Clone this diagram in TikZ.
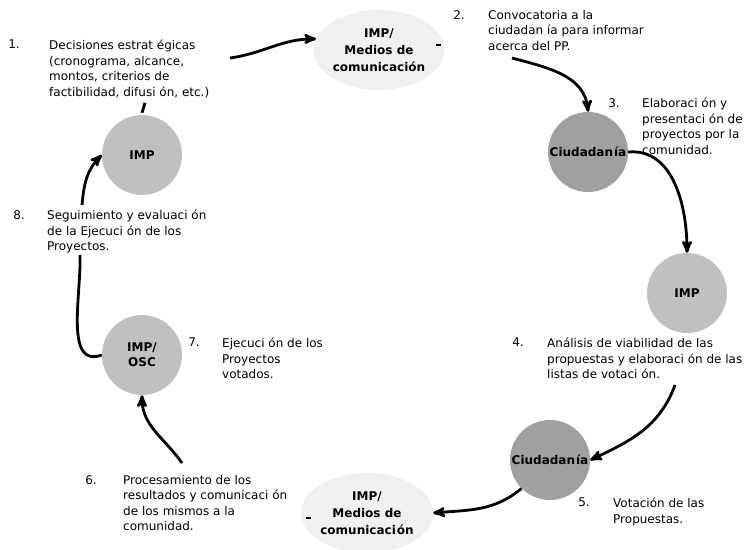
\documentclass[tikz,border=0pt]{standalone}
\usepackage{fontspec}
\setmainfont{DejaVu Sans}
\usetikzlibrary{arrows,positioning,shapes.geometric}
\definecolor{impgray}{HTML}{C0C0C0}
\definecolor{ciugray}{HTML}{A0A0A0}
\definecolor{medgray}{HTML}{F0F0F0}

\begin{document}
\begin{tikzpicture}[x=1pt,y=-1pt,>=stealth',
  every node/.style={font=\fontsize{12}{15.5}\selectfont},
  body/.style={anchor=north west,align=left,inner sep=0pt},
  num/.style={inner sep=0pt},
  imp node/.style={circle,fill=impgray,minimum size=80pt,inner sep=0pt,
    align=center,font=\fontsize{12}{15}\selectfont\bfseries},
  ciu node/.style={imp node,fill=ciugray},
  med node/.style={ellipse,fill=medgray,minimum width=108pt,minimum height=80pt,
    inner sep=0pt,align=center,font=\fontsize{12}{17}\selectfont\bfseries},
  flow/.style={->,line width=2.8pt},
  stub/.style={line width=2.8pt}]
  \useasboundingbox (0,0) rectangle (755,549);

  % actores
  \node[imp node] (iA) at (142,155) {IMP};
  \node[med node] (mA) at (379,50) {IMP/\\Medios de\\comunicación};
  \node[ciu node] (cA) at (588,152) {Ciudadan\kern1pt ía};
  \node[imp node] (iB) at (687,293) {IMP};
  \node[ciu node] (cB) at (550,460) {Ciudadan\kern1pt ía};
  \node[med node] (mB) at (367,513) {IMP/\\Medios de\\comunicaci\kern1pt ón};
  \node[imp node] (iC) at (142,355) {IMP/\\OSC};

  % pasos
  \node[body] (t1) at (49,40) {Decisiones estrat égicas\\(cronograma, alcance,\\montos, criterios de\\factibilidad, difusi ón, etc.)};
  \node[body] (t2) at (488,10) {Convocatoria a la\\ciudadan ía para informar\\acerca del PP.};
  \node[body] (t3) at (642,98) {Elaboraci ón y\\presentaci ón de\\proyectos por la\\comunidad.};
  \node[body] (t4) at (547,338) {Análisis de viabilidad de las\\propuestas y elaboraci ón de las\\listas de votaci ón.};
  \node[body] (t5) at (613,498) {Votación de las\\Propuestas.};
  \node[body] (t6) at (123,475) {Procesamiento de los\\resultados y comunicaci ón\\de los mismos a la\\comunidad.};
  \node[body] (t7) at (222,338) {Ejecuci ón de los\\Proyectos\\votados.};
  \node[body] (t8) at (47,210) {Seguimiento y evaluaci ón\\de la Ejecuci ón de los\\Proyectos.};

  \node[num] (n1) [left=29pt of t1.north west,anchor=north east] {1.};
  \node[num] (n2) [left=23pt of t2.north west,anchor=north east] {2.};
  \node[num] (n3) [left=22pt of t3.north west,anchor=north east] {3.};
  \node[num] (n4) [left=23pt of t4.north west,anchor=north east] {4.};
  \node[num] (n5) [left=23pt of t5.north west,anchor=north east] {5.};
  \node[num] (n6) [left=26pt of t6.north west,anchor=north east] {6.};
  \node[num] (n7) [left=22pt of t7.north west,anchor=north east] {7.};
  \node[num] (n8) [left=22pt of t8.north west,anchor=north east] {8.};

  \coordinate (c1) at (230,58);
  \coordinate (c2) at (512,58);
  \coordinate (c4) at (675,385);
  \coordinate (c6) at (182,463);
  \coordinate (c8a) at (82,205);
  \coordinate (c8b) at (80,255);
  \coordinate (d1) at (436,45);
  \coordinate (d2) at (306,518);

  \draw[flow] (c1) to[out=8,in=180] (mA.170);
  \draw[stub] (d1) -- ++(5,0);
  \draw[flow] (c2) to[out=-15,in=95] (cA.north);
  \draw[flow] (cA.east) to[out=5,in=90] (iB.north);
  \draw[flow] (c4) to[out=-110,in=25] (cB.east);
  \draw[flow] (cB.225) to[out=220,in=5] (mB.east);
  \draw[stub] (d2) -- ++(5,0);
  \draw[flow] (c6) to[out=125,in=-90] (iC.south);
  \draw[stub] (c8b) to[out=-88,in=200] (iC.west);
  \draw[flow] (c8a) to[out=85,in=225] (iA.west);
  \draw[stub] ([yshift=2pt]iA.north) -- ++(3,-10);
\end{tikzpicture}
\end{document}
